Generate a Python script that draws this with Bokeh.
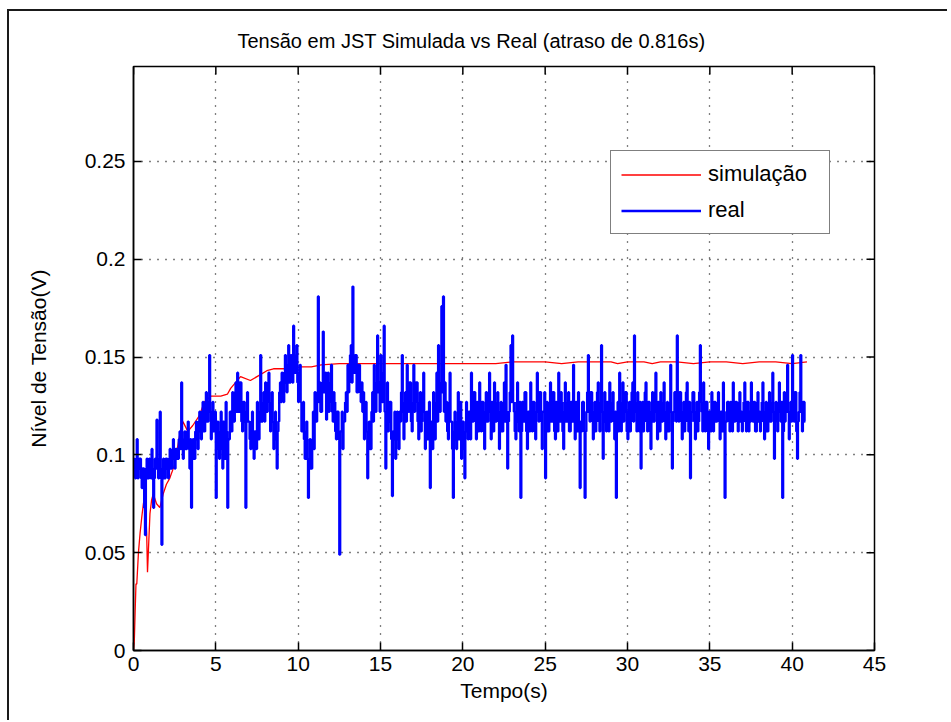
import numpy as np
from bokeh.plotting import figure
from bokeh.models import (Range1d, FixedTicker, CustomJSTickFormatter,
                          Legend, LegendItem)
from bokeh.embed import file_html
from bokeh.resources import INLINE

TITLE = "Tensão em JST Simulada vs Real (atraso de 0.816s)"
XLABEL = "Tempo(s)"
YLABEL = "Nível de Tensão(V)"
X_TICKS = [0, 5, 10, 15, 20, 25, 30, 35, 40, 45]
Y_TICKS = [0, 0.05, 0.1, 0.15, 0.2, 0.25]

# simulated response (red)
sim_t = [0.0, 0.05, 0.1, 0.15, 0.2, 0.3, 0.4, 0.5, 0.6, 0.7, 0.8, 0.85, 0.9, 1.0, 1.1,
         1.2, 1.4, 1.6, 1.8, 2.0, 2.2, 2.5, 2.8, 3.0, 3.3, 3.6, 4.0, 4.3, 4.7, 5.3,
         5.7, 5.9, 6.5, 7.1, 7.5, 8.1, 8.5, 9.4, 10.2, 10.8, 11.4, 12.5, 14.4, 16.0,
         18.0, 20.0, 21.5, 22.0, 23.0, 24.0, 25.0, 26.0, 27.0, 28.0, 29.0, 29.4, 30.0,
         31.0, 31.5, 32.0, 33.0, 34.0, 35.0, 36.0, 37.0, 38.0, 39.0, 40.0, 40.9]
sim_v = [0.0, 0.005, 0.02, 0.034, 0.034, 0.05, 0.06, 0.068, 0.075, 0.08, 0.06, 0.04,
         0.05, 0.07, 0.077, 0.08, 0.075, 0.073, 0.08, 0.085, 0.088, 0.095, 0.11, 0.117,
         0.112, 0.115, 0.12, 0.127, 0.13, 0.13, 0.131, 0.134, 0.14, 0.138, 0.14, 0.143,
         0.144, 0.144, 0.145, 0.145, 0.146, 0.1466, 0.1466, 0.1466, 0.1466, 0.1466,
         0.1466, 0.1466, 0.1475, 0.1475, 0.1475, 0.1466, 0.1475, 0.1475, 0.1475, 0.1466,
         0.1475, 0.1475, 0.1466, 0.1475, 0.1475, 0.1466, 0.1475, 0.1475, 0.1466, 0.1475,
         0.1475, 0.1466, 0.1475]

# measured response (blue), one sample every 0.05 s (one row per second)
real_v = [
    0.098, 0.093, 0.088, 0.098, 0.108, 0.088, 0.093, 0.098, 0.098, 0.088, 0.083, 0.093, 0.093, 0.073, 0.059, 0.093, 0.098, 0.088, 0.088, 0.098,
    0.093, 0.088, 0.103, 0.093, 0.073, 0.088, 0.098, 0.093, 0.118, 0.098, 0.088, 0.093, 0.122, 0.088, 0.054, 0.093, 0.098, 0.088, 0.088, 0.098,
    0.098, 0.093, 0.088, 0.098, 0.103, 0.093, 0.093, 0.103, 0.108, 0.098, 0.093, 0.103, 0.103, 0.098, 0.098, 0.108, 0.112, 0.103, 0.137, 0.108,
    0.098, 0.108, 0.112, 0.103, 0.103, 0.112, 0.117, 0.103, 0.093, 0.108, 0.073, 0.103, 0.108, 0.098, 0.098, 0.112, 0.117, 0.108, 0.103, 0.117,
    0.122, 0.112, 0.108, 0.122, 0.127, 0.112, 0.112, 0.127, 0.132, 0.117, 0.117, 0.127, 0.151, 0.122, 0.108, 0.122, 0.127, 0.112, 0.112, 0.122,
    0.078, 0.108, 0.117, 0.103, 0.098, 0.112, 0.122, 0.103, 0.093, 0.117, 0.112, 0.098, 0.127, 0.112, 0.073, 0.108, 0.108, 0.122, 0.122, 0.112,
    0.132, 0.122, 0.117, 0.132, 0.137, 0.122, 0.142, 0.127, 0.122, 0.137, 0.137, 0.117, 0.112, 0.127, 0.127, 0.117, 0.073, 0.122, 0.132, 0.117,
    0.117, 0.108, 0.103, 0.117, 0.122, 0.103, 0.098, 0.112, 0.112, 0.103, 0.127, 0.112, 0.108, 0.122, 0.151, 0.117, 0.117, 0.127, 0.132, 0.117,
    0.137, 0.122, 0.122, 0.137, 0.142, 0.127, 0.112, 0.127, 0.132, 0.117, 0.103, 0.117, 0.122, 0.108, 0.093, 0.112, 0.117, 0.132, 0.137, 0.127,
    0.142, 0.132, 0.127, 0.142, 0.151, 0.137, 0.132, 0.146, 0.156, 0.137, 0.137, 0.151, 0.146, 0.137, 0.166, 0.146, 0.142, 0.151, 0.156, 0.137,
    0.127, 0.142, 0.146, 0.127, 0.112, 0.122, 0.127, 0.108, 0.098, 0.112, 0.117, 0.098, 0.078, 0.098, 0.108, 0.093, 0.093, 0.108, 0.122, 0.103,
    0.132, 0.117, 0.117, 0.132, 0.181, 0.127, 0.137, 0.122, 0.122, 0.137, 0.163, 0.132, 0.132, 0.142, 0.118, 0.132, 0.142, 0.122, 0.127, 0.137,
    0.146, 0.122, 0.117, 0.132, 0.127, 0.112, 0.108, 0.122, 0.122, 0.108, 0.049, 0.112, 0.112, 0.122, 0.103, 0.117, 0.117, 0.127, 0.132, 0.122,
    0.146, 0.132, 0.137, 0.151, 0.156, 0.137, 0.186, 0.142, 0.142, 0.151, 0.151, 0.132, 0.132, 0.146, 0.146, 0.132, 0.127, 0.137, 0.122, 0.132,
    0.108, 0.122, 0.127, 0.112, 0.088, 0.112, 0.117, 0.103, 0.103, 0.122, 0.132, 0.117, 0.146, 0.127, 0.122, 0.137, 0.161, 0.132, 0.137, 0.122,
    0.151, 0.132, 0.127, 0.142, 0.166, 0.122, 0.093, 0.117, 0.137, 0.112, 0.117, 0.127, 0.127, 0.108, 0.079, 0.112, 0.108, 0.122, 0.098, 0.112,
    0.122, 0.108, 0.103, 0.122, 0.117, 0.132, 0.151, 0.122, 0.108, 0.127, 0.132, 0.117, 0.146, 0.127, 0.122, 0.137, 0.137, 0.117, 0.112, 0.127,
    0.146, 0.122, 0.127, 0.137, 0.137, 0.117, 0.108, 0.127, 0.132, 0.112, 0.117, 0.132, 0.142, 0.122, 0.103, 0.117, 0.122, 0.108, 0.112, 0.127,
    0.083, 0.112, 0.117, 0.103, 0.132, 0.112, 0.108, 0.127, 0.142, 0.117, 0.156, 0.127, 0.122, 0.137, 0.176, 0.132, 0.181, 0.122, 0.137, 0.117,
    0.127, 0.112, 0.108, 0.127, 0.142, 0.117, 0.117, 0.103, 0.078, 0.112, 0.122, 0.108, 0.103, 0.117, 0.132, 0.108, 0.112, 0.127, 0.098, 0.117,
    0.117, 0.103, 0.088, 0.112, 0.127, 0.112, 0.108, 0.122, 0.122, 0.108, 0.142, 0.122, 0.117, 0.132, 0.132, 0.117, 0.108, 0.127, 0.122, 0.112,
    0.137, 0.117, 0.112, 0.127, 0.127, 0.112, 0.103, 0.122, 0.132, 0.117, 0.117, 0.132, 0.142, 0.122, 0.108, 0.127, 0.122, 0.112, 0.137, 0.117,
    0.117, 0.127, 0.132, 0.117, 0.103, 0.122, 0.127, 0.112, 0.112, 0.127, 0.137, 0.117, 0.146, 0.122, 0.093, 0.117, 0.122, 0.132, 0.156, 0.127,
    0.161, 0.127, 0.122, 0.112, 0.108, 0.127, 0.137, 0.117, 0.112, 0.127, 0.078, 0.112, 0.127, 0.117, 0.117, 0.132, 0.132, 0.112, 0.103, 0.122,
    0.122, 0.112, 0.137, 0.122, 0.112, 0.127, 0.127, 0.112, 0.108, 0.122, 0.142, 0.122, 0.117, 0.132, 0.132, 0.117, 0.103, 0.122, 0.122, 0.132,
    0.088, 0.117, 0.127, 0.112, 0.112, 0.127, 0.137, 0.117, 0.117, 0.132, 0.132, 0.112, 0.108, 0.127, 0.122, 0.112, 0.142, 0.122, 0.117, 0.132,
    0.127, 0.112, 0.103, 0.122, 0.137, 0.117, 0.117, 0.127, 0.132, 0.112, 0.112, 0.127, 0.127, 0.117, 0.146, 0.122, 0.108, 0.127, 0.122, 0.112,
    0.132, 0.117, 0.083, 0.117, 0.112, 0.127, 0.127, 0.112, 0.078, 0.112, 0.122, 0.132, 0.151, 0.122, 0.117, 0.132, 0.132, 0.117, 0.108, 0.122,
    0.127, 0.112, 0.117, 0.132, 0.137, 0.117, 0.112, 0.127, 0.156, 0.122, 0.098, 0.117, 0.132, 0.117, 0.112, 0.127, 0.122, 0.112, 0.137, 0.122,
    0.117, 0.127, 0.132, 0.117, 0.108, 0.122, 0.078, 0.112, 0.127, 0.112, 0.142, 0.122, 0.112, 0.127, 0.137, 0.117, 0.122, 0.132, 0.132, 0.112,
    0.108, 0.122, 0.127, 0.112, 0.117, 0.132, 0.137, 0.117, 0.161, 0.127, 0.122, 0.112, 0.132, 0.117, 0.112, 0.127, 0.093, 0.117, 0.127, 0.112,
    0.117, 0.132, 0.137, 0.117, 0.112, 0.127, 0.127, 0.112, 0.103, 0.122, 0.132, 0.117, 0.117, 0.132, 0.142, 0.122, 0.108, 0.127, 0.122, 0.112,
    0.132, 0.117, 0.117, 0.127, 0.137, 0.117, 0.108, 0.122, 0.127, 0.112, 0.112, 0.127, 0.146, 0.122, 0.093, 0.117, 0.122, 0.132, 0.132, 0.117,
    0.161, 0.127, 0.117, 0.132, 0.132, 0.117, 0.108, 0.122, 0.127, 0.112, 0.117, 0.132, 0.137, 0.117, 0.112, 0.127, 0.088, 0.117, 0.122, 0.132,
    0.132, 0.117, 0.108, 0.122, 0.127, 0.112, 0.117, 0.132, 0.156, 0.127, 0.122, 0.112, 0.137, 0.122, 0.112, 0.127, 0.127, 0.112, 0.103, 0.122,
    0.122, 0.112, 0.132, 0.117, 0.112, 0.127, 0.127, 0.117, 0.117, 0.127, 0.132, 0.117, 0.108, 0.122, 0.122, 0.112, 0.137, 0.122, 0.078, 0.117,
    0.117, 0.127, 0.127, 0.117, 0.112, 0.127, 0.122, 0.112, 0.137, 0.122, 0.117, 0.127, 0.127, 0.117, 0.112, 0.127, 0.132, 0.117, 0.122, 0.112,
    0.117, 0.127, 0.137, 0.117, 0.112, 0.127, 0.127, 0.112, 0.122, 0.117, 0.137, 0.122, 0.117, 0.127, 0.127, 0.112, 0.112, 0.127, 0.132, 0.117,
    0.122, 0.112, 0.117, 0.127, 0.137, 0.117, 0.108, 0.122, 0.127, 0.112, 0.112, 0.127, 0.132, 0.117, 0.117, 0.127, 0.142, 0.122, 0.098, 0.117,
    0.127, 0.117, 0.112, 0.127, 0.137, 0.122, 0.117, 0.127, 0.078, 0.112, 0.132, 0.117, 0.122, 0.132, 0.146, 0.122, 0.108, 0.122, 0.127, 0.117,
    0.151, 0.122, 0.117, 0.132, 0.132, 0.112, 0.098, 0.117, 0.122, 0.132, 0.151, 0.122, 0.112, 0.127, 0.127, 0.117, 0.117,
]
real_t = [round(i * 0.05, 2) for i in range(len(real_v))]

FONT = "Liberation Sans"
X0, X1 = 0, 45
Y0, Y1 = 0, 0.2985
FRAME_W, FRAME_H = 741, 584
TICK_PX = 8

p = figure(width=940, height=711, output_backend="svg", toolbar_location=None,
           x_range=Range1d(X0, X1), y_range=Range1d(Y0, Y1),
           min_border_left=124, min_border_right=75, min_border_top=55,
           min_border_bottom=72, background_fill_color="white",
           border_fill_color="white", title=TITLE)
p.styles = {"margin-left": "7px", "margin-top": "9px",
            "border-left": "2px solid #1a1a1a", "border-top": "2px solid #1a1a1a"}
p.outline_line_color = "black"
p.outline_line_width = 1.5

p.title.text_font = FONT
p.title.text_font_size = "20px"
p.title.text_font_style = "normal"
p.title.text_color = "black"
p.title.align = "left"
p.title.offset = 104
p.title.standoff = 30

fmt = CustomJSTickFormatter(code="return String(Math.round(tick*1000)/1000)")

for ax in (p.xaxis[0], p.yaxis[0]):
    ax.major_label_text_font = FONT
    ax.major_label_text_font_size = "21px"
    ax.major_label_text_color = "black"
    ax.axis_label_text_font = FONT
    ax.axis_label_text_font_size = "21px"
    ax.axis_label_text_font_style = "normal"
    ax.axis_label_text_color = "black"
    ax.axis_line_color = "black"
    ax.axis_line_width = 1.5
    ax.major_tick_in = TICK_PX
    ax.major_tick_out = 0
    ax.major_tick_line_color = "black"
    ax.major_tick_line_width = 1.5
    ax.minor_tick_line_color = None
    ax.formatter = fmt

p.xaxis[0].ticker = FixedTicker(ticks=X_TICKS)
p.yaxis[0].ticker = FixedTicker(ticks=Y_TICKS)
p.xaxis[0].axis_label = XLABEL
p.yaxis[0].axis_label = YLABEL
p.xaxis[0].major_label_standoff = 6
p.yaxis[0].major_label_standoff = 8
p.xaxis[0].axis_label_standoff = 5
p.yaxis[0].axis_label_standoff = 32

for g, ticks in ((p.xgrid[0], X_TICKS), (p.ygrid[0], Y_TICKS)):
    g.ticker = FixedTicker(ticks=ticks)
    g.grid_line_color = "black"
    g.grid_line_dash = "1 7"
    g.grid_line_width = 1.3

# mirrored tick marks on the top and right edges of the box
dx = TICK_PX * (X1 - X0) / FRAME_W
dy = TICK_PX * (Y1 - Y0) / FRAME_H
p.segment(x0=[X1 - dx] * len(Y_TICKS), y0=Y_TICKS, x1=[X1] * len(Y_TICKS), y1=Y_TICKS,
          line_color="black", line_width=1.5)
p.segment(x0=X_TICKS, y0=[Y1 - dy] * len(X_TICKS), x1=X_TICKS, y1=[Y1] * len(X_TICKS),
          line_color="black", line_width=1.5)

r_sim = p.line(sim_t, sim_v, line_color="#ff0000", line_width=1.3)
r_real = p.step(real_t, real_v, mode="after", line_color="#0000ff", line_width=2.4)

legend = Legend(items=[LegendItem(label="simulação", renderers=[r_sim]),
                       LegendItem(label="real", renderers=[r_real])],
                location=(477, 416), orientation="vertical")
legend.label_text_font = FONT
legend.label_text_font_size = "22px"
legend.label_text_color = "black"
legend.glyph_width = 80
legend.glyph_height = 25
legend.label_standoff = 7
legend.label_width = 111
legend.spacing = 10
legend.padding = 10
legend.margin = 0
legend.border_line_color = "black"
legend.border_line_width = 1.5
legend.background_fill_color = "white"
legend.background_fill_alpha = 1
p.add_layout(legend, "center")

open("out.html", "w").write(file_html(p, INLINE))
